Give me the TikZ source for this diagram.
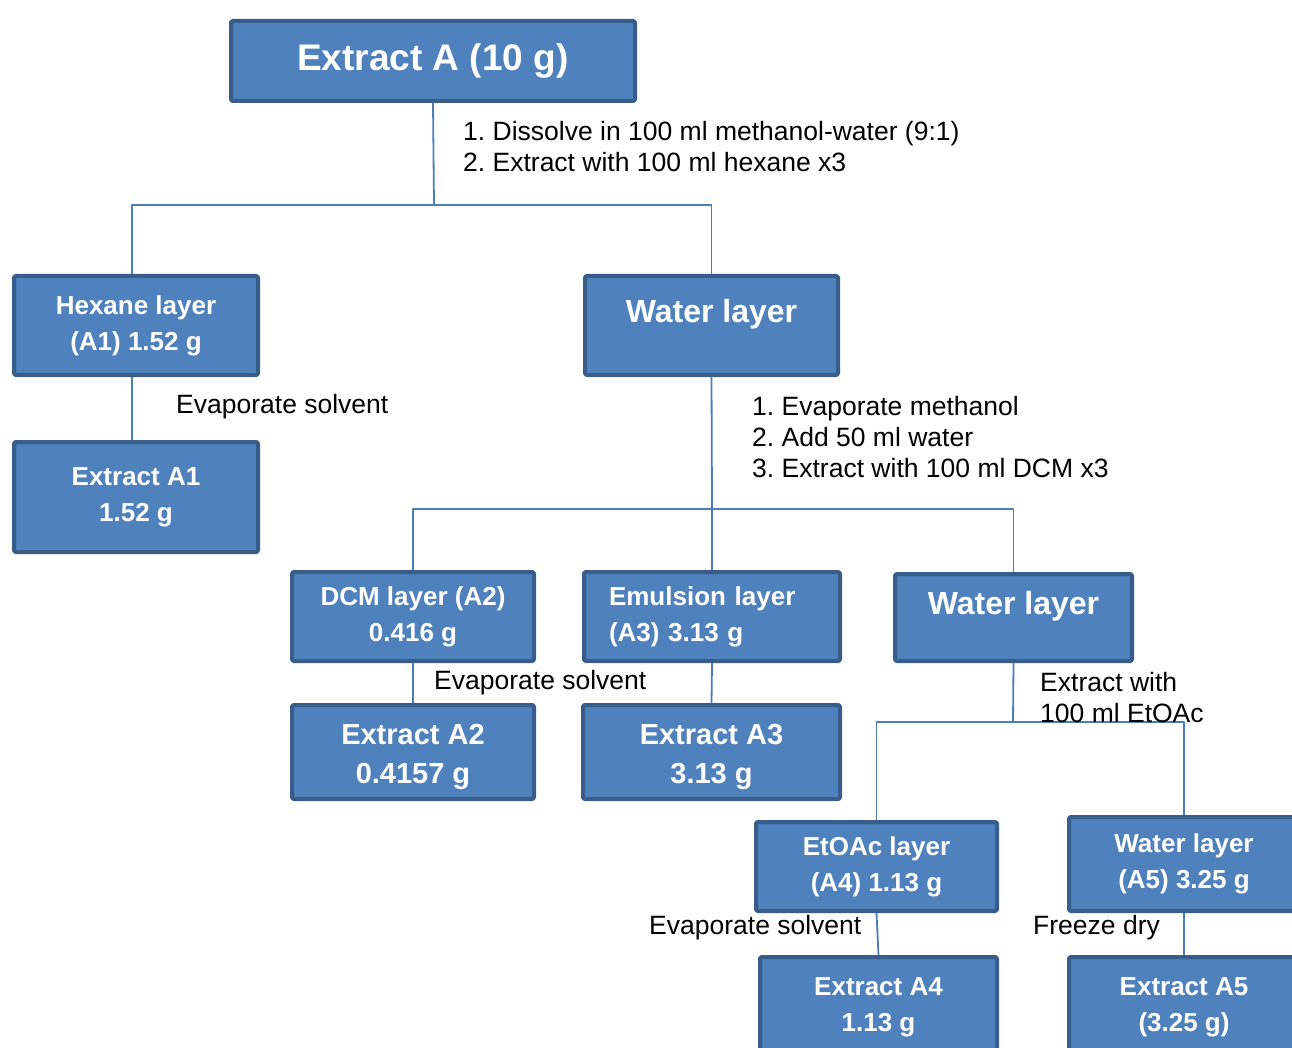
\documentclass[tikz,border=0pt]{standalone}
\usepackage{fontspec}
\setmainfont{Liberation Sans}
\frenchspacing
\definecolor{boxfill}{RGB}{79,129,189}
\definecolor{boxedge}{RGB}{56,93,138}
\definecolor{linkcol}{RGB}{74,126,187}
\begin{document}
\begin{tikzpicture}[x=1pt, y=-1pt, line join=round,
	box/.style={draw=boxedge, fill=boxfill, line width=4pt, rounded corners=1.5pt, text=white, align=center, inner sep=0pt, font=\bfseries\fontsize{26}{36}\selectfont},
	link/.style={draw=linkcol, line width=1.8pt},
	note/.style={anchor=west, align=left, inner sep=0pt, font=\fontsize{26.5}{31}\selectfont}]
	\useasboundingbox (0,0) rectangle (1292,1048);
	% boxes
	\node[box, minimum width=404pt, minimum height=80pt, font=\bfseries\fontsize{37}{44}\selectfont] (exA) at (433,61) {Extract A (10 g)};
	\node[box, minimum width=244pt, minimum height=99pt] (hex) at (136,325.5) {Hexane layer\\(A1) 1.52 g};
	\node[box, minimum width=253pt, minimum height=99pt, text depth=30pt, font=\bfseries\fontsize{32}{38}\selectfont] (wat1) at (711.5,325.5) {Water layer};
	\node[box, minimum width=244pt, minimum height=110pt] (exA1) at (136,497) {Extract A1\\1.52 g};
	\node[box, minimum width=242pt, minimum height=89pt] (dcm) at (413,616.5) {DCM layer (A2)\\0.416 g};
	\node[box, minimum width=256pt, minimum height=89pt, text width=206pt, align=left] (emu) at (712,616.5) {Emulsion layer\\(A3) 3.13 g};
	\node[box, minimum width=237pt, minimum height=87pt, text depth=30pt, font=\bfseries\fontsize{32}{38}\selectfont] (wat2) at (1013.5,617.5) {Water layer};
	\node[box, minimum width=242pt, minimum height=94pt, text height=69pt, font=\bfseries\fontsize{29}{39}\selectfont] (exA2) at (413,752) {Extract A2\\0.4157 g};
	\node[box, minimum width=257pt, minimum height=94pt, text height=69pt, font=\bfseries\fontsize{29}{39}\selectfont] (exA3) at (711.5,752) {Extract A3\\3.13 g};
	\node[box, minimum width=241pt, minimum height=89pt] (eto) at (876.5,866.5) {EtOAc layer\\(A4) 1.13 g};
	\node[box, minimum width=230pt, minimum height=94pt] (wat5) at (1184,864) {Water layer\\(A5) 3.25 g};
	\node[box, minimum width=237pt, minimum height=93pt, text height=61pt] (exA4) at (878.5,1003.5) {Extract A4\\1.13 g};
	\node[box, minimum width=230pt, minimum height=93pt, text height=61pt] (exA5) at (1184,1003.5) {Extract A5\\(3.25 g)};
	% junctions
	\coordinate (jA) at (434,205);
	\coordinate (jW) at (712,509);
	\coordinate (jE) at (1013,722);
	% connectors
	\draw[link] (exA.south) -- (jA);
	\draw[link] (jA) -| ([xshift=-4pt]hex.north);
	\draw[link] (jA) -| (wat1.north);
	\draw[link] ([xshift=-4pt]hex.south) -- ([xshift=-4pt]exA1.north);
	\draw[link] (wat1.south) -- (jW);
	\draw[link] (jW) -| (dcm.north);
	\draw[link] (jW) -- (emu.north);
	\draw[link] (jW) -| (wat2.north);
	\draw[link] (dcm.south) -- (exA2.north);
	\draw[link] (emu.south) -- (exA3.north);
	\draw[link] (wat2.south) -- (jE);
	\draw[link] (jE) -| (eto.north);
	\draw[link] (jE) -| (wat5.north);
	\draw[link] (eto.south) -- (exA4.north);
	\draw[link] (wat5.south) -- (exA5.north);
	% step notes
	\path
	(463,146.5) node[note] (nA) {1. Dissolve in 100 ml methanol-water (9:1)\\2. Extract with 100 ml hexane x3}
	(176,407) node[note] (nHex) {Evaporate solvent}
	(752,437.5) node[note] (nW) {1. Evaporate methanol\\2. Add 50 ml water\\3. Extract with 100 ml DCM x3}
	(434,683) node[note] (nDcm) {Evaporate solvent}
	(1040,698) node[note] (nE) {Extract with\\100 ml EtOAc}
	(649,928) node[note] (nEto) {Evaporate solvent}
	(1033,928) node[note] (nW5) {Freeze dry};
\end{tikzpicture}
\end{document}
